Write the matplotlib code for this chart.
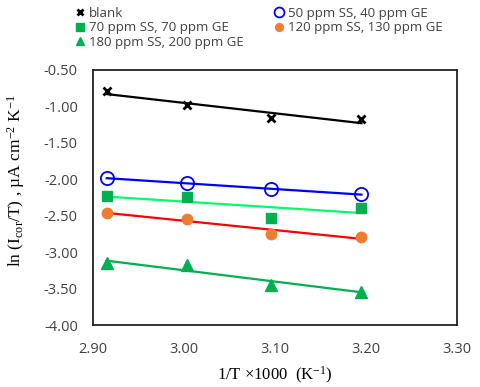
import numpy as np
import matplotlib
matplotlib.use("Agg")
import matplotlib.pyplot as plt
from matplotlib.ticker import FormatStrFormatter

plt.rcParams["mathtext.fontset"] = "custom"
plt.rcParams["mathtext.rm"] = "Liberation Serif"
plt.rcParams["mathtext.it"] = "Liberation Serif:italic"

# 1/T x 1000 (K^-1)
inv_t = [2.915, 3.003, 3.096, 3.195]

labels = ["blank", "50 ppm SS, 40 ppm GE", "70 ppm SS, 70 ppm GE",
          "120 ppm SS, 130 ppm GE", "180 ppm SS, 200 ppm GE"]
blank = [-0.79, -0.99, -1.16, -1.18]
ss50 = [-1.99, -2.05, -2.14, -2.21]
ss70 = [-2.23, -2.25, -2.53, -2.39]
ss120 = [-2.46, -2.55, -2.75, -2.79]
ss180 = [-3.15, -3.18, -3.45, -3.54]

series = [blank, ss50, ss70, ss120, ss180]
styles = [
    dict(marker="x", mfc="black", mec="black", ms=6, mew=2),
    dict(marker="o", mfc="none", mec="#0000ff", ms=9.5, mew=1.3),
    dict(marker="s", mfc="#00b050", mec="#00b050", ms=7),
    dict(marker="o", mfc="#ed7d31", mec="#ed7d31", ms=7.5),
    dict(marker="^", mfc="#00b050", mec="#00b050", ms=8),
]
line_colors = ["black", "#0000ff", "#00ff66", "#ff0000", "#00b050"]

fig = plt.figure(figsize=(4.8, 3.87), dpi=100)
ax = fig.add_axes([0.194, 0.160, 0.758, 0.660])

x = np.array(inv_t)
for ys, st, lc, lab in zip(series, styles, line_colors, labels):
    # linear trendline through each series
    k, b = np.polyfit(x, ys, 1)
    ax.plot(x[[0, -1]], k * x[[0, -1]] + b, color=lc, lw=1.6, zorder=2)
    ax.plot(x, ys, ls="none", marker=st["marker"], ms=st["ms"],
            mfc=st["mfc"], mec=st["mec"], mew=st.get("mew", 1),
            label=lab, zorder=3)

ax.set_xlim(2.90, 3.30)
ax.set_ylim(-4.0, -0.5)
ax.set_xticks(np.arange(2.90, 3.31, 0.10))
ax.set_yticks(np.arange(-4.0, -0.49, 0.5))
ax.xaxis.set_major_formatter(FormatStrFormatter("%.2f"))
ax.yaxis.set_major_formatter(FormatStrFormatter("%.2f"))
ax.tick_params(axis="x", length=0, pad=12)
ax.tick_params(axis="y", length=0, pad=11)
for lbl in ax.get_xticklabels() + ax.get_yticklabels():
    lbl.set_family("Open Sans")
    lbl.set_fontsize(10.5)
    lbl.set_color("#404040")
for sp in ax.spines.values():
    sp.set_linewidth(1.3)
    sp.set_color("#222222")

ax.set_xlabel("1/T \u00d71000  (K$^{-1}$)", family="Liberation Serif",
              fontsize=12, va="top")
ax.xaxis.set_label_coords(0.5, -0.155)
ax.set_ylabel("ln (I$_{\\mathrm{cor}}$/T) , \u00b5A cm$^{-2}$ K$^{-1}$",
              family="Liberation Serif", fontsize=12.5)
ax.yaxis.set_label_coords(-0.183, 0.567)

h, l = ax.get_legend_handles_labels()
order = [0, 2, 4, 1, 3]
leg = fig.legend([h[i] for i in order], [l[i] for i in order], ncol=2,
                 loc="upper left", bbox_to_anchor=(0.132, 1.013), frameon=False,
                 prop={"family": "Open Sans", "size": 9.5}, handlelength=0.7,
                 handletextpad=0.35, columnspacing=2.3, labelspacing=0.12,
                 markerscale=0.75)
for t in leg.get_texts():
    t.set_color("#404040")

fig.savefig("out.png", dpi=100)
